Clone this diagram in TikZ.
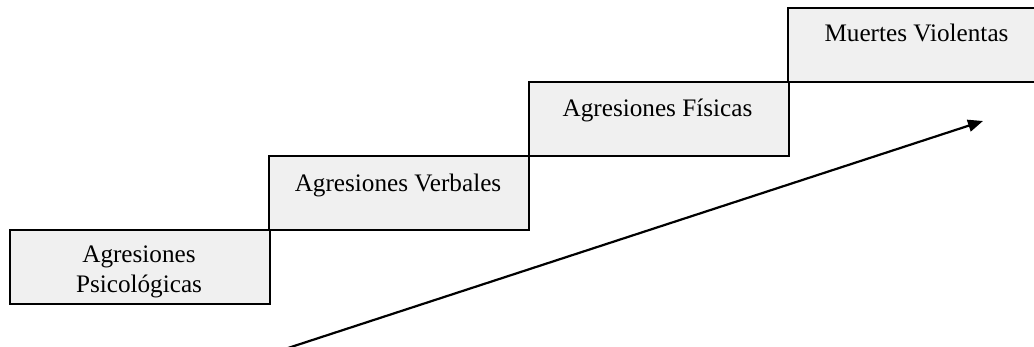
\documentclass[tikz,border=0pt]{standalone}
\usepackage{fontspec}
\setmainfont{Liberation Serif}
\usetikzlibrary{arrows.meta}
\begin{document}
\begin{tikzpicture}[x=1pt,y=-1pt,
  stepbox/.style={draw=black,line width=2pt,fill=boxgray,rectangle,inner sep=0pt,
    minimum width=260pt,minimum height=74pt,anchor=north west},
  steptext/.style={anchor=base,inner sep=0pt,font=\fontsize{25.2}{30}\selectfont,text=black},
  ]
\definecolor{boxgray}{HTML}{F0F0F0}
\useasboundingbox (0,0) rectangle (1034,347);
\node[stepbox] (b1) at (9,229.5) {};
\node[stepbox] (b2) at (268,155) {};
\node[stepbox] (b3) at (527.5,81.5) {};
\node[stepbox,minimum width=300pt] (b4) at (787,7) {};
\node[steptext] (t1a) at (139,263) {Agresiones};
\node[steptext] (t1b) at (139,293) {Psicológicas};
\node[steptext] (t2) at (398,192) {Agresiones Verbales};
\node[steptext] (t3) at (657.5,117) {Agresiones Físicas};
\node[steptext] (t4) at (916.5,42) {Muertes Violentas};
\coordinate (as) at (288,348);
\coordinate (ae) at (983,121);
\draw[line width=2.2pt,-{Triangle[length=15pt,width=12pt]}] (as) -- (ae);
\end{tikzpicture}
\end{document}
